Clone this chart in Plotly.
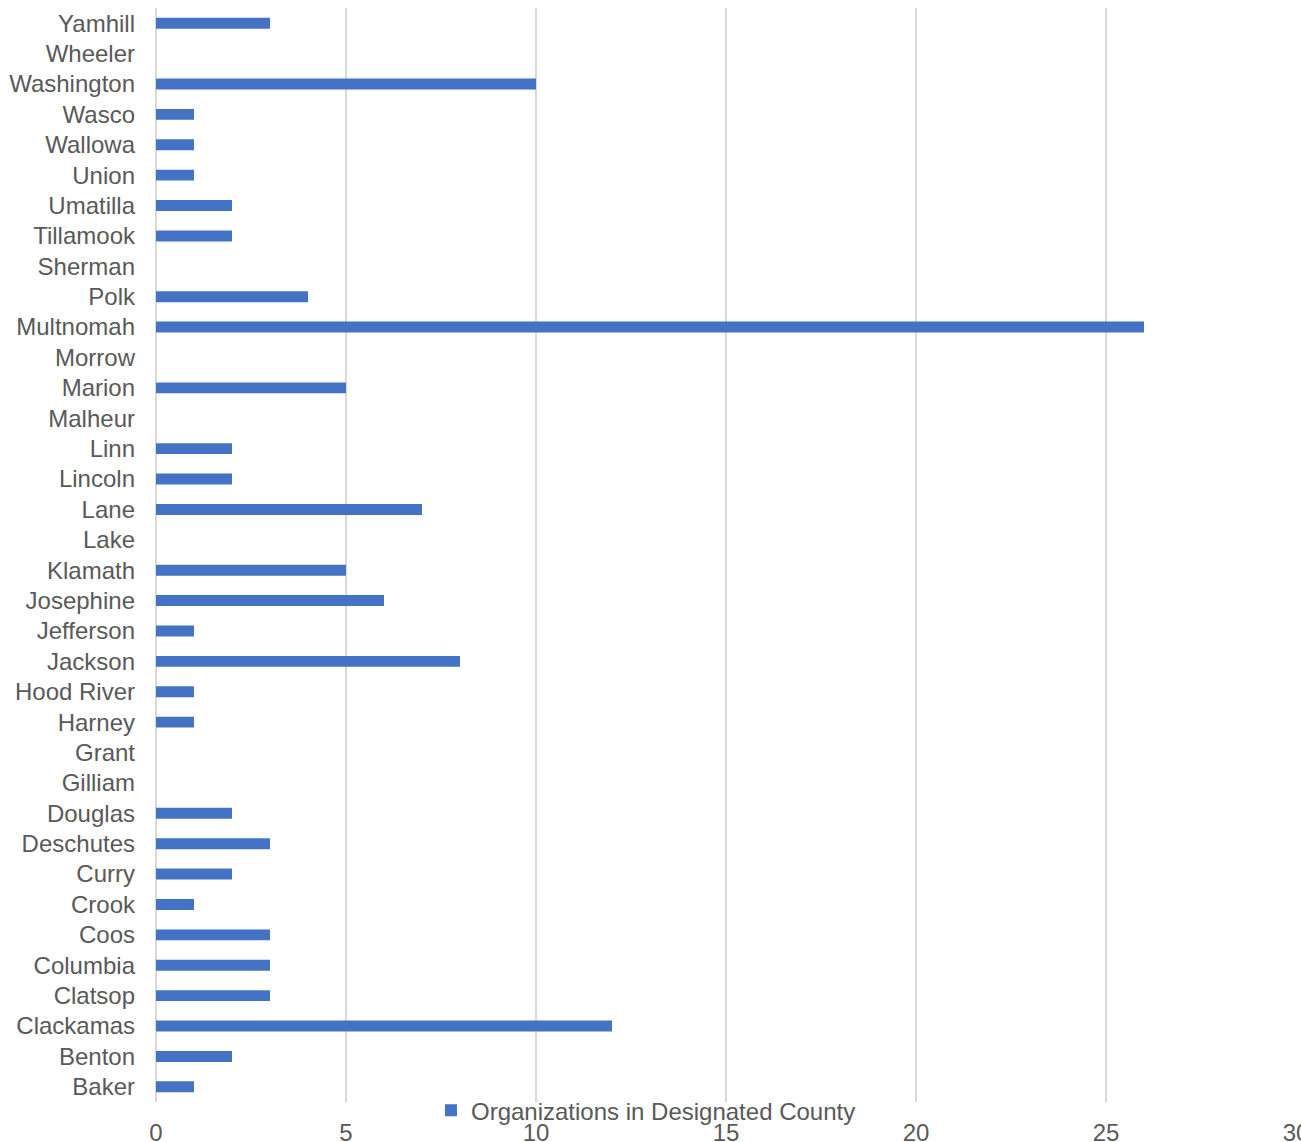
import plotly.graph_objects as go

counties = ["Baker", "Benton", "Clackamas", "Clatsop", "Columbia", "Coos", "Crook", "Curry",
            "Deschutes", "Douglas", "Gilliam", "Grant", "Harney", "Hood River", "Jackson",
            "Jefferson", "Josephine", "Klamath", "Lake", "Lane", "Lincoln", "Linn", "Malheur",
            "Marion", "Morrow", "Multnomah", "Polk", "Sherman", "Tillamook", "Umatilla",
            "Union", "Wallowa", "Wasco", "Washington", "Wheeler", "Yamhill"]
organizations = [1, 2, 12, 3, 3, 3, 1, 2,
                 3, 2, 0, 0, 1, 1, 8,
                 1, 6, 5, 0, 7, 2, 2, 0,
                 5, 0, 26, 4, 0, 2, 2,
                 1, 1, 1, 10, 0, 3]
series_name = "Organizations in Designated County"
x_ticks = [0, 5, 10, 15, 20, 25, 30]

TEXT = "#595959"
GRID = "#D9D9D9"
FONT = "Liberation Sans, Arial, sans-serif"

fig = go.Figure()
fig.add_trace(go.Bar(
    x=organizations, y=counties, orientation="h",
    name=series_name, marker=dict(color="#4472C4", line=dict(width=0)),
    showlegend=True,
))

fig.update_layout(
    width=1301, height=1142,
    margin=dict(l=156, r=5, t=8, b=40, autoexpand=False),
    paper_bgcolor="white", plot_bgcolor="white",
    font=dict(family=FONT, size=24, color=TEXT),
    bargap=0.64,
    showlegend=True,
    legend=dict(orientation="h", x=0.4298, xanchor="center", y=-0.008, yanchor="middle",
                bgcolor="rgba(0,0,0,0)", font=dict(size=24, color=TEXT),
                itemwidth=30),
    xaxis=dict(range=[0, 30], tickvals=x_ticks, showgrid=True, gridcolor=GRID, gridwidth=1.5,
               zeroline=True, zerolinecolor=GRID, zerolinewidth=1.5, showline=False,
               ticks="", ticklabelstandoff=14, tickfont=dict(size=24, color=TEXT),
               ticklabeloverflow="allow", automargin=False, fixedrange=True),
    yaxis=dict(type="category", categoryorder="array", categoryarray=counties,
               showgrid=False, showline=False, ticks="", ticklabelstandoff=20,
               tickfont=dict(size=24, color=TEXT), range=[-0.5, len(counties) - 0.5],
               automargin=False),
)

fig.write_html("out.html", config={"displayModeBar": False},
               post_script="document.body.style.margin='0px';document.body.style.overflow='hidden';")
